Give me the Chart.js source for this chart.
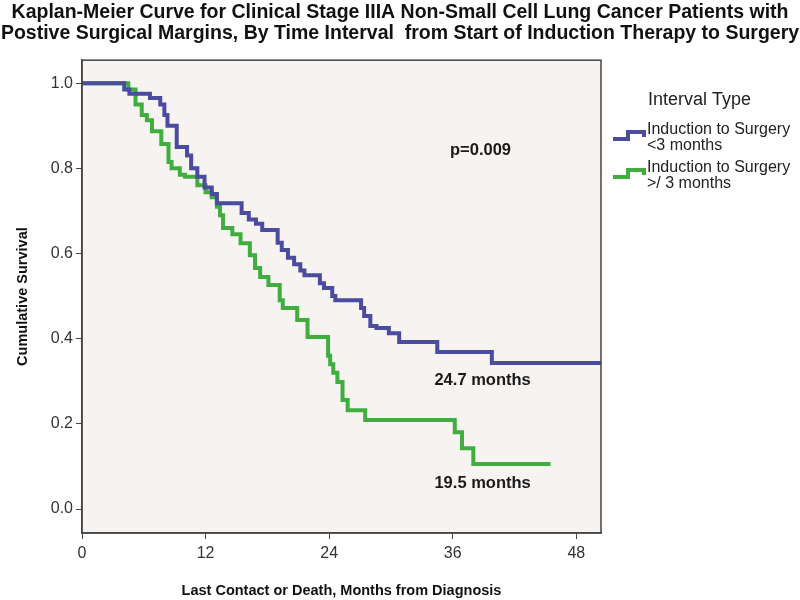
<!DOCTYPE html>
<html>
<head>
<meta charset="utf-8">
<script src="https://cdn.jsdelivr.net/npm/chart.js@4.4.1/dist/chart.umd.min.js"></script>
<style>
  html, body { margin: 0; padding: 0; background: #ffffff; }
  #wrap { width: 800px; height: 600px; position: relative; }
</style>
</head>
<body>
<div id="wrap"><canvas id="c" width="800" height="600"></canvas></div>
<script>
// ---- data ----
const titleLines = [
  'Kaplan-Meier Curve for Clinical Stage IIIA Non-Small Cell Lung Cancer Patients with',
  'Postive Surgical Margins, By Time Interval  from Start of Induction Therapy to Surgery'
];
const xTicks = [0, 12, 24, 36, 48];
const yTicks = [0.0, 0.2, 0.4, 0.6, 0.8, 1.0];
const seriesNames = [['Induction to Surgery', '<3 months'], ['Induction to Surgery', '>/ 3 months']];
const legendTitle = 'Interval Type';

const blueTimes = [0, 4.1, 4.6, 6.6, 7.6, 8.0, 8.3, 9.2, 10.2, 10.6, 11.2, 11.9, 12.6, 13.1, 15.5, 16.2, 16.9, 17.5, 19.0, 19.4, 20.0, 20.6, 21.2, 21.6, 23.1, 23.5, 24.3, 24.6, 27.1, 27.4, 28.0, 28.6, 29.8, 30.8, 34.5, 39.8, 50.4];
const blueSurv  = [1.0, 0.985, 0.975, 0.965, 0.95, 0.925, 0.90, 0.85, 0.83, 0.80, 0.78, 0.755, 0.74, 0.718, 0.695, 0.68, 0.67, 0.655, 0.625, 0.608, 0.59, 0.575, 0.56, 0.549, 0.53, 0.519, 0.50, 0.49, 0.472, 0.453, 0.43, 0.425, 0.413, 0.392, 0.369, 0.343, 0.343];

const greenTimes = [0, 4.5, 5.2, 5.8, 6.3, 6.8, 7.7, 8.4, 8.7, 9.5, 10.0, 11.2, 12.0, 12.6, 13.1, 13.4, 13.7, 14.6, 15.4, 16.3, 16.8, 17.3, 18.1, 19.2, 19.5, 20.9, 21.9, 23.9, 24.1, 24.4, 24.8, 25.3, 25.8, 27.5, 36.2, 36.9, 38.0, 45.5];
const greenSurv  = [1.0, 0.985, 0.95, 0.925, 0.913, 0.887, 0.857, 0.815, 0.80, 0.785, 0.78, 0.76, 0.744, 0.732, 0.71, 0.69, 0.66, 0.645, 0.624, 0.596, 0.566, 0.545, 0.526, 0.49, 0.472, 0.444, 0.404, 0.36, 0.34, 0.32, 0.298, 0.256, 0.232, 0.209, 0.18, 0.143, 0.106, 0.106];

const annotations = [
  { text: 'p=0.009', x: 38.7, y: 0.843 },
  { text: '24.7 months', x: 38.9, y: 0.303 },
  { text: '19.5 months', x: 38.9, y: 0.061 }
];

// ---- styling ----
const BLUE = '#4b4b9f';
const GREEN = '#3fae3f';
const FRAME = '#444444';
const PLOTBG = '#f6f3f1';
const FONT = "'Liberation Sans', Arial, sans-serif";

function toPoints(xs, ys) { return xs.map((x, i) => ({ x: x, y: ys[i] })); }

const framePlugin = {
  id: 'frame',
  beforeDraw(chart) {
    const { ctx, chartArea: a } = chart;
    ctx.save();
    ctx.fillStyle = PLOTBG;
    ctx.fillRect(a.left, a.top, a.right - a.left, a.bottom - a.top);
    ctx.restore();
  },
  afterDraw(chart) {
    const { ctx, chartArea: a } = chart;
    ctx.save();
    ctx.strokeStyle = FRAME;
    ctx.lineWidth = 1.5;
    ctx.strokeRect(a.left, a.top, a.right - a.left, a.bottom - a.top);
    ctx.restore();
  }
};

const annoPlugin = {
  id: 'anno',
  afterDatasetsDraw(chart) {
    const { ctx, scales } = chart;
    ctx.save();
    ctx.fillStyle = '#1a1a1a';
    ctx.font = 'bold 16.5px ' + FONT;
    ctx.textAlign = 'center';
    ctx.textBaseline = 'middle';
    annotations.forEach(a => {
      ctx.fillText(a.text, scales.x.getPixelForValue(a.x), scales.y.getPixelForValue(a.y));
    });
    ctx.restore();
  }
};

const legendPlugin = {
  id: 'kmLegend',
  afterDraw(chart) {
    const { ctx, chartArea: a } = chart;
    const x0 = a.right + 11;
    ctx.save();
    ctx.fillStyle = '#222';
    ctx.textBaseline = 'middle';
    ctx.textAlign = 'left';
    ctx.font = '18px ' + FONT;
    ctx.fillText(legendTitle, x0 + 36, 100);
    const colors = [BLUE, GREEN];
    const ys = [130, 168];
    ctx.font = '16px ' + FONT;
    seriesNames.forEach((lines, i) => {
      const y = ys[i];
      ctx.strokeStyle = colors[i];
      ctx.lineWidth = 4;
      ctx.lineJoin = 'miter';
      ctx.beginPath();
      ctx.moveTo(x0 + 1, y + 9);
      ctx.lineTo(x0 + 16, y + 9);
      ctx.lineTo(x0 + 16, y + 2);
      ctx.lineTo(x0 + 32, y + 2);
      ctx.lineTo(x0 + 32, y + 7);
      ctx.stroke();
      ctx.fillStyle = '#222';
      ctx.fillText(lines[0], x0 + 35, y);
      ctx.fillText(lines[1], x0 + 35, y + 16);
    });
    ctx.restore();
  }
};

const mkDataset = (label, xs, ys, color) => ({
  label: label,
  data: toPoints(xs, ys),
  borderColor: color,
  backgroundColor: color,
  borderWidth: 4,
  stepped: 'before',
  pointRadius: 0,
  pointHoverRadius: 0,
  fill: false,
  tension: 0,
  borderJoinStyle: 'miter',
  borderCapStyle: 'butt'
});

new Chart(document.getElementById('c'), {
  type: 'line',
  data: {
    datasets: [
      mkDataset(seriesNames[0].join(' '), blueTimes, blueSurv, BLUE),
      mkDataset(seriesNames[1].join(' '), greenTimes, greenSurv, GREEN)
    ]
  },
  options: {
    responsive: false,
    animation: false,
    events: [],
    layout: { padding: { left: 0, right: 0, top: 0, bottom: 0 } },
    plugins: {
      legend: { display: false },
      tooltip: { enabled: false },
      title: {
        display: true,
        text: titleLines,
        color: '#111111',
        font: { family: FONT, size: 19.5, weight: 'bold', lineHeight: 1.03 },
        padding: { top: 3, bottom: 17 }
      }
    },
    scales: {
      x: {
        type: 'linear',
        min: 0,
        max: 50.4,
        afterBuildTicks(s) { s.ticks = xTicks.map(v => ({ value: v })); },
        afterFit(s) { s.height = 67; },
        grid: { display: true, drawOnChartArea: false, drawTicks: true, tickLength: 6, tickColor: FRAME, color: FRAME },
        border: { display: true, color: FRAME, width: 1.5 },
        ticks: { color: '#333', font: { family: FONT, size: 16 }, padding: 5, maxRotation: 0 },
        title: { display: true, text: 'Last Contact or Death, Months from Diagnosis', color: '#111111', font: { family: FONT, size: 14.5, weight: 'bold' }, padding: { top: 4, bottom: 0 } }
      },
      y: {
        type: 'linear',
        min: -0.0563,
        max: 1.054,
        afterBuildTicks(s) { s.ticks = yTicks.map(v => ({ value: v })); },
        afterFit(s) { s.width = 82; },
        grid: { display: true, drawOnChartArea: false, drawTicks: true, tickLength: 6, tickColor: FRAME, color: FRAME },
        border: { display: true, color: FRAME, width: 1.5 },
        ticks: { color: '#333', font: { family: FONT, size: 16 }, padding: 3, callback: v => v.toFixed(1) },
        title: { display: true, text: 'Cumulative Survival', color: '#111111', font: { family: FONT, size: 14.5, weight: 'bold' }, padding: { top: 14, bottom: 0 } }
      },
      yR: {
        type: 'linear',
        position: 'right',
        display: true,
        min: 0,
        max: 1,
        afterFit(s) { s.width = 199; },
        grid: { display: false, drawTicks: false },
        border: { display: false },
        ticks: { display: false }
      }
    }
  },
  plugins: [framePlugin, annoPlugin, legendPlugin]
});
</script>
</body>
</html>
